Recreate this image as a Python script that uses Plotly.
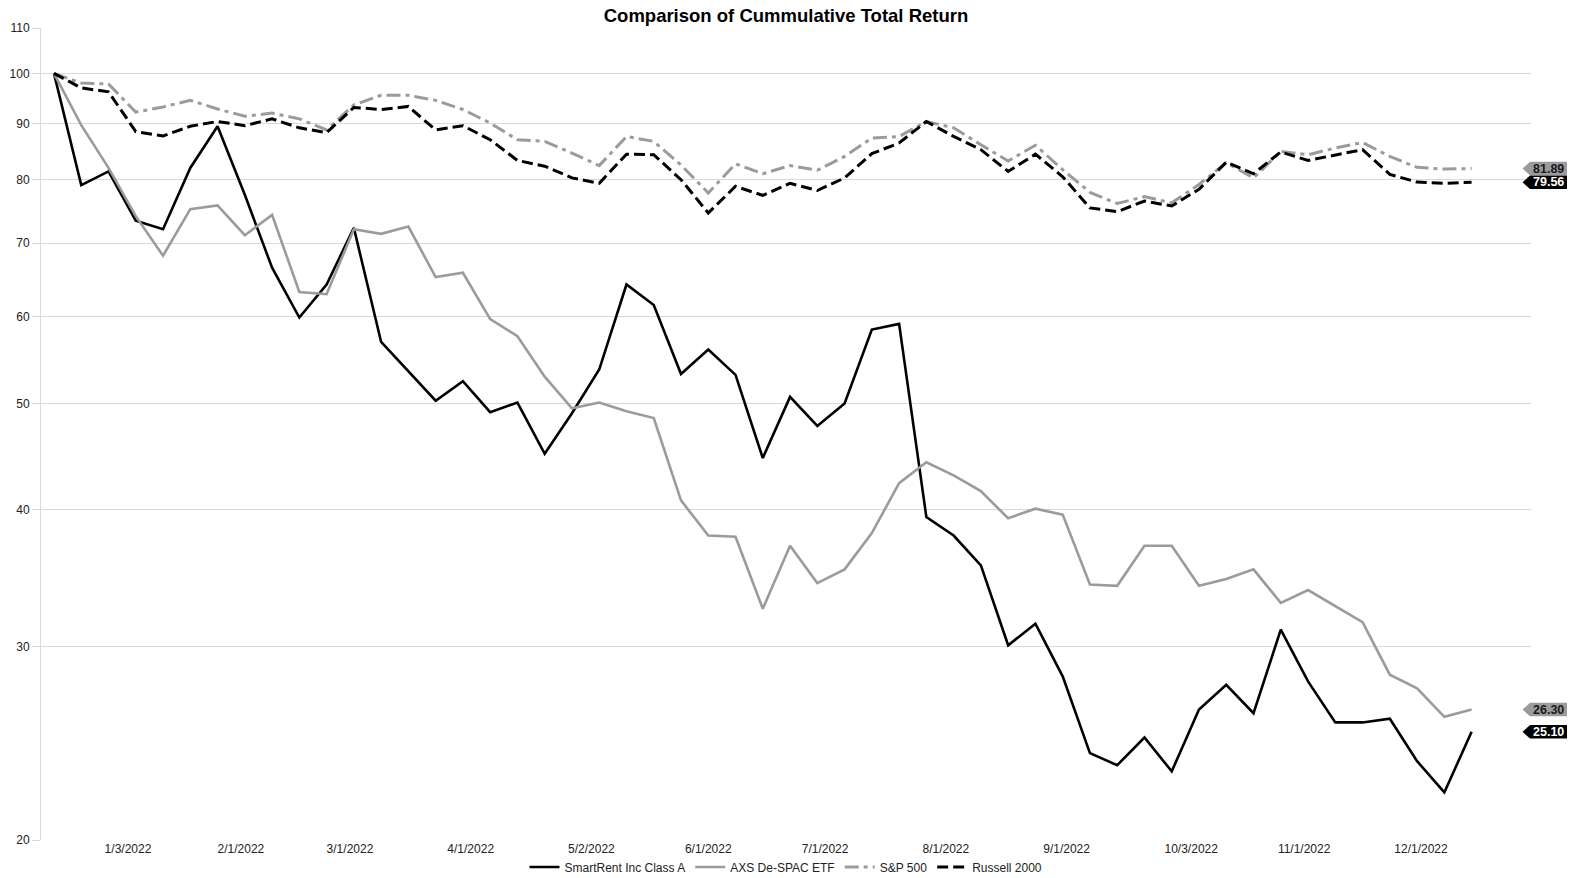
import math
import pandas as pd
import plotly.graph_objects as go

# Weekly observation dates
dates = pd.date_range("2021-12-15", periods=53, freq="7D")

smartrent = [100, 79.1, 81.4, 73.4, 72.1, 82.0, 89.5, 77.5, 66.5, 59.9, 64.2, 72.3, 56.9, 53.5,
             50.3, 52.4, 49.1, 50.1, 45.0, 49.0, 53.7, 64.2, 61.5, 53.2, 56.0, 53.1, 44.6, 50.7,
             47.7, 50.0, 58.4, 59.1, 39.4, 37.9, 35.6, 30.1, 31.5, 28.2, 24.0, 23.4, 24.8, 23.1,
             26.3, 27.7, 26.1, 31.1, 27.9, 25.6, 25.6, 25.8, 23.6, 22.1, 25.10]
axs_despac = [100, 89.7, 82.0, 74.1, 68.2, 75.2, 75.8, 71.2, 74.3, 63.2, 62.9, 72.1, 71.4, 72.5,
              65.2, 65.8, 59.7, 57.6, 52.9, 49.5, 50.1, 49.2, 48.5, 40.8, 37.9, 37.8, 32.5, 37.1,
              34.3, 35.3, 38.1, 42.3, 44.2, 43.0, 41.6, 39.3, 40.1, 39.6, 34.2, 34.1, 37.1, 37.1,
              34.1, 34.6, 35.3, 32.9, 33.8, 32.7, 31.6, 28.3, 27.5, 25.9, 26.30]
sp500 = [100, 98.0, 97.8, 92.2, 93.2, 94.5, 92.8, 91.4, 92.0, 90.9, 88.8, 93.6, 95.5, 95.5,
         94.5, 92.7, 90.1, 87.0, 86.7, 84.6, 82.4, 87.6, 86.7, 82.5, 77.8, 82.7, 81.0, 82.4,
         81.6, 84.0, 87.3, 87.6, 90.4, 89.2, 86.1, 83.2, 86.0, 81.7, 77.9, 76.1, 77.2, 76.2,
         79.2, 82.9, 80.3, 84.9, 84.3, 85.5, 86.5, 84.0, 82.1, 81.8, 81.89]
russell2000 = [100, 97.0, 96.2, 88.5, 87.7, 89.5, 90.4, 89.6, 90.9, 89.2, 88.3, 93.1, 92.7, 93.3,
               88.8, 89.6, 87.0, 83.3, 82.3, 80.3, 79.4, 84.4, 84.3, 80.0, 74.6, 78.9, 77.4, 79.4,
               78.2, 80.3, 84.5, 86.4, 90.4, 87.6, 85.2, 81.4, 84.4, 80.5, 75.4, 74.8, 76.5, 75.7,
               78.4, 83.0, 81.0, 84.8, 83.3, 84.3, 85.2, 80.9, 79.6, 79.4, 79.56]

series_names = ["SmartRent Inc Class A", "AXS De-SPAC ETF", "S&P 500", "Russell 2000"]

tick_dates = ["2022-01-03", "2022-02-01", "2022-03-01", "2022-04-01", "2022-05-02", "2022-06-01",
              "2022-07-01", "2022-08-01", "2022-09-01", "2022-10-03", "2022-11-01", "2022-12-01"]
tick_text = ["1/3/2022", "2/1/2022", "3/1/2022", "4/1/2022", "5/2/2022", "6/1/2022",
             "7/1/2022", "8/1/2022", "9/1/2022", "10/3/2022", "11/1/2022", "12/1/2022"]
y_ticks = [20, 30, 40, 50, 60, 70, 80, 90, 100, 110]

GRAY = "#9b9b9b"
BLACK = "#000000"
FONT = "Liberation Sans, Arial, sans-serif"

W, H = 1581, 878
ML, MR, MT, MB = 41, 50, 28, 38
YMIN, YMAX = 20, 110

fig = go.Figure()
styles = [
    (smartrent, BLACK, "solid", 2.6),
    (axs_despac, GRAY, "solid", 2.6),
    (sp500, GRAY, "14px,5px,4px,5px", 3),
    (russell2000, BLACK, "11px,5px", 3),
]
for name, (vals, col, dash, wdt) in zip(series_names, styles):
    fig.add_trace(go.Scatter(x=dates, y=vals, mode="lines", name=name,
                             line=dict(color=col, width=wdt, dash=dash)))

# End-value tags at right
plot_w = W - ML - MR
plot_h = H - MT - MB
def ypaper(v):
    return (math.log10(v) - math.log10(YMIN)) / (math.log10(YMAX) - math.log10(YMIN))

tags = [(sp500[-1], GRAY, "#1a1a1a"), (russell2000[-1], BLACK, "#ffffff"),
        (axs_despac[-1], GRAY, "#1a1a1a"), (smartrent[-1], BLACK, "#ffffff")]
tip_x = 1 + (1522.5 - (W - MR)) / plot_w
body_x0 = 1 + (1530 - (W - MR)) / plot_w
body_x1 = 1 + (1567 - (W - MR)) / plot_w
hh = 6.8 / plot_h
for v, bg, fg in tags:
    yp = ypaper(v)
    path = (f"M {tip_x},{yp} L {body_x0},{yp + hh} L {body_x1},{yp + hh} "
            f"L {body_x1},{yp - hh} L {body_x0},{yp - hh} Z")
    fig.add_shape(type="path", path=path, xref="paper", yref="paper",
                  fillcolor=bg, line=dict(width=0), layer="above")
    fig.add_annotation(x=(body_x0 + body_x1) / 2, y=yp, xref="paper", yref="paper",
                       text=f"<b>{v:.2f}</b>", showarrow=False,
                       font=dict(family=FONT, size=12.5, color=fg),
                       xanchor="center", yanchor="middle")

fig.update_layout(
    width=W, height=H,
    margin=dict(l=ML, r=MR, t=MT, b=MB, autoexpand=False),
    paper_bgcolor="white", plot_bgcolor="white",
    title=dict(text="<b>Comparison of Cummulative Total Return</b>",
               x=(ML + plot_w / 2) / W, xanchor="center",
               y=1 - 16 / H, yanchor="middle",
               font=dict(family=FONT, size=18.5, color="#000")),
    font=dict(family=FONT, size=12, color="#222"),
    showlegend=True,
    legend=dict(orientation="h", x=0.5, xanchor="center", y=-(27 / plot_h), yanchor="middle",
                font=dict(family=FONT, size=12, color="#222"), itemwidth=30,
                tracegroupgap=0, bgcolor="rgba(0,0,0,0)"),
)

fig.update_xaxes(
    type="date",
    range=["2021-12-11 16:00", "2022-12-29 06:00"],
    tickvals=tick_dates, ticktext=tick_text,
    showgrid=False, zeroline=False,
    showline=False, ticks="",
    tickfont=dict(family=FONT, size=12, color="#222"),
)
fig.update_yaxes(
    type="log",
    range=[math.log10(YMIN), math.log10(YMAX)],
    tickvals=y_ticks, ticktext=[str(t) for t in y_ticks],
    showgrid=True, gridcolor="#d9d9d9", gridwidth=1,
    showline=True, linecolor="#d9d9d9", linewidth=1,
    ticks="outside", ticklen=8, tickcolor="#d9d9d9",
    zeroline=False,
    tickfont=dict(family=FONT, size=12, color="#222"),
)

fig.write_html("out.html", config={"displayModeBar": False},
               post_script="document.body.style.margin='0';document.body.style.overflow='hidden';")
